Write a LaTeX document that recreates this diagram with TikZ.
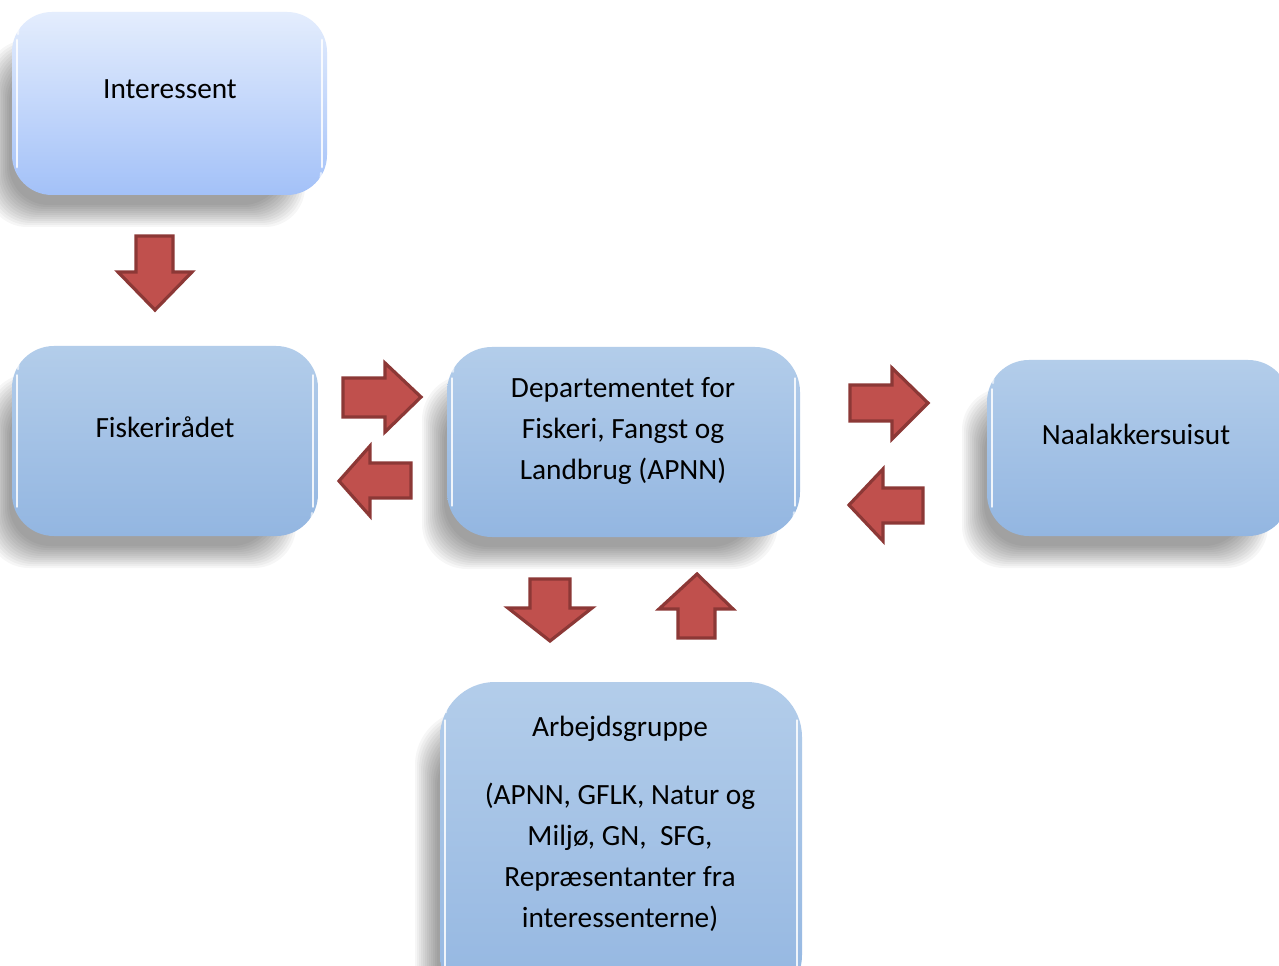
\documentclass[tikz,border=0pt]{standalone}
\usepackage{fontspec}
\setmainfont{Carlito}
\usetikzlibrary{positioning}
\definecolor{arrfill}{HTML}{C0504D}
\definecolor{arrline}{HTML}{8C3836}
\definecolor{boxtop}{HTML}{B3CDEA}
\definecolor{boxbot}{HTML}{93B6E1}
\definecolor{itop}{HTML}{E4EDFD}
\definecolor{ibot}{HTML}{A3C1F8}
\tikzset{
  blockarrow/.style={fill=arrfill, draw=arrline, line width=2.4pt, line join=miter},
  boxtext/.style={font=\fontsize{22}{30.75}\selectfont, align=center, text=black, inner sep=0pt},
  gloss/.style={white, opacity=0.85, line width=2.2pt, line cap=round},
}
% shadow: #1,#2 top-left ; #3,#4 bottom-right ; #5 radius
\newcommand\softshadow[5]{%
  \foreach \i in {0,...,11}{%
    \fill[black, opacity=0.034, rounded corners={(#5)*0.75pt}]
      ({#1-25+2*\i},{#2+28+2*\i}) rectangle ({#3-22-2*\i},{#4+32-2*\i});
  }%
}
% box: name, x1,y1,x2,y2, radius, top color, bottom color
\newcommand\glossbox[8]{%
  \softshadow{#2}{#3}{#4}{#5}{#6}
  \path[rounded corners={(#6)*0.75pt}, top color=#7, bottom color=#8]
     (#2,#3) rectangle (#4,#5);
  \node[inner sep=0pt, minimum width={(#4-#2)*0.75pt}, minimum height={(#5-#3)*0.75pt}]
     (#1) at ({(#2+#4)/2},{(#3+#5)/2}) {};
  \draw[gloss] ({#2+5},{#3+#6*0.7}) -- ({#2+5},{#5-#6*0.7});
  \draw[gloss] ({#4-5},{#3+#6*0.7}) -- ({#4-5},{#5-#6*0.7});
  \draw[gloss, line width=1.6pt, opacity=0.6] ({#2+6},{#3+#6*0.55}) arc[start angle=180, end angle=150, radius={(#6-6)*0.75pt}];
  \draw[gloss, line width=1.6pt, opacity=0.6] ({#4-6},{#5-#6*0.55}) arc[start angle=0, end angle=-30, radius={(#6-6)*0.75pt}];
}
\begin{document}
\begin{tikzpicture}[x=0.75pt, y=-0.75pt]
\useasboundingbox (0,0) rectangle (1279,966);
\clip (0,0) rectangle (1279,966);
\fill[white] (0,0) rectangle (1279,966);

% boxes
\glossbox{inter}{12}{12}{327}{195}{40}{itop}{ibot}
\glossbox{fisk}{12}{346}{318}{536}{42}{boxtop}{boxbot}
\glossbox{dept}{447}{347}{800}{537}{45}{boxtop}{boxbot}
\glossbox{naal}{987}{360}{1290}{536}{42}{boxtop}{boxbot}
\glossbox{arb}{440}{682}{802}{1010}{55}{boxtop}{boxbot}

% texts
\node[boxtext] (tinter) at (170,89) {Interessent};
\node[boxtext] (tfisk) at (165,427) {Fiskerirådet};
\node[boxtext] (tdept) at (623,431) {Departementet for\\Fiskeri, Fangst og\\Landbrug (APNN)};
\node[boxtext] (tnaal) at (1136,434) {Naalakkersuisut};
\node[boxtext, anchor=north] (tarb) at (620,716) {Arbejdsgruppe\\[20pt](APNN, GFLK, Natur og\\Miljø, GN,\ \ SFG,\\Repræsentanter fra\\interessenterne)};

% block arrows
\draw[blockarrow] (136,236) -- (173,236) -- (173,272) -- (192,272) -- (155,310) -- (118,272) -- (136,272) -- cycle;
\draw[blockarrow] (343,378) -- (385,378) -- (385,363) -- (421,397) -- (385,432) -- (385,417) -- (343,417) -- cycle;
\draw[blockarrow] (411,463) -- (370,463) -- (370,446) -- (339,481) -- (370,516) -- (370,498) -- (411,498) -- cycle;
\draw[blockarrow] (850,385) -- (892,385) -- (892,368) -- (928,403) -- (892,439) -- (892,421) -- (850,421) -- cycle;
\draw[blockarrow] (923,488) -- (883,488) -- (883,469) -- (849,505) -- (883,541) -- (883,523) -- (923,523) -- cycle;
\draw[blockarrow] (530,579) -- (570,579) -- (570,608) -- (592,608) -- (550,641) -- (508,608) -- (530,608) -- cycle;
\draw[blockarrow] (678,638) -- (678,609) -- (659,609) -- (697,574) -- (733,609) -- (715,609) -- (715,638) -- cycle;
\end{tikzpicture}
\end{document}
